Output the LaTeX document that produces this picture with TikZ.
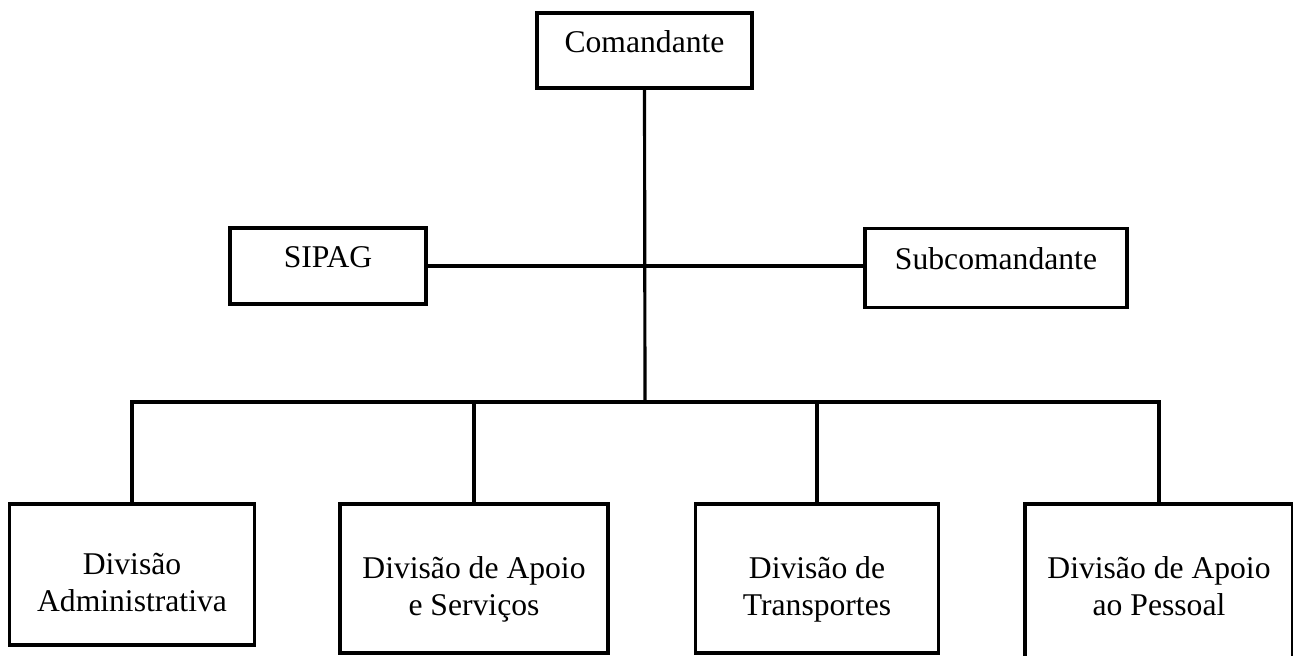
\documentclass[tikz,border=0pt]{standalone}
\usepackage{fontspec}
\setmainfont{Liberation Serif}
\begin{document}
\begin{tikzpicture}[line width=1.8pt,
    topbox/.style={draw, rectangle, minimum height=1.5cm, text height=.36cm, text depth=.3cm, font=\fontsize{18}{21}\selectfont},
    divbox/.style={draw, rectangle, minimum height=2.98cm, align=center, text height=1.78cm, text depth=.3cm, font=\fontsize{18}{21}\selectfont}]

\useasboundingbox (0,0) rectangle (25.86,-13.10);

\node[topbox, minimum width=4.30cm] (com) at (12.89,-1.01) {Comandante};
\node[topbox, minimum width=3.92cm, minimum height=1.52cm] (sipag) at (6.56,-5.32) {SIPAG};
\node[topbox, minimum width=5.24cm, minimum height=1.58cm] (sub) at (19.92,-5.36) {Subcomandante};

\node[divbox, minimum width=4.90cm, minimum height=2.82cm] (adm) at (2.64,-11.49) {Divisão\\Administrativa};
\node[divbox, minimum width=5.36cm] (apoio) at (9.48,-11.57) {Divisão de Apoio\\e Serviços};
\node[divbox, minimum width=4.86cm] (transp) at (16.34,-11.57) {Divisão de\\Transportes};
\node[divbox, minimum width=5.36cm, minimum height=3.2cm, text height=1.54cm] (pessoal) at (23.18,-11.68) {Divisão de Apoio\\ao Pessoal};

\coordinate (bus) at (12.90,-8.04);

\draw (com.south) -- (bus);
\draw (sipag.east) -- (sipag.east -| sub.west);
\draw (adm.north) |- (bus) -| (pessoal.north);
\draw (apoio.north) -- (apoio.north |- bus);
\draw (transp.north) -- (transp.north |- bus);
\end{tikzpicture}
\end{document}
